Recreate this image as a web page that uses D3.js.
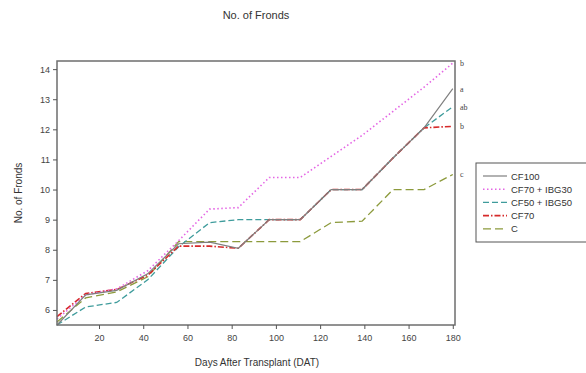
<!DOCTYPE html>
<html>
<head>
<meta charset="utf-8">
<script src="https://cdn.jsdelivr.net/npm/d3@7"></script>
<style>
  body { margin: 0; background: #fff; }
  svg { font-family: "Liberation Sans", Arial, sans-serif; }
</style>
</head>
<body>
<svg id="chart" width="586" height="373"></svg>
<script>
const days = [1, 14, 28, 42, 56, 70, 83, 97, 111, 125, 139, 153, 167, 180];
const cf100 = [5.5, 6.5, 6.65, 7.2, 8.2, 8.25, 8.05, 9.0, 9.0, 10.0, 10.0, 11.05, 12.05, 13.35];
const cf70ibg30 = [5.7, 6.5, 6.7, 7.3, 8.3, 9.35, 9.4, 10.4, 10.4, 11.1, 11.8, 12.6, 13.4, 14.2];
const cf50ibg50 = [5.5, 6.1, 6.25, 7.0, 8.1, 8.9, 9.0, 9.0, 9.0, 10.0, 10.0, 11.05, 12.05, 12.75];
const cf70 = [5.78, 6.55, 6.68, 7.15, 8.12, 8.12, 8.05, 9.0, 9.0, 10.0, 10.0, 11.05, 12.05, 12.1];
const control = [5.6, 6.4, 6.6, 7.1, 8.27, 8.27, 8.27, 8.27, 8.27, 8.9, 8.95, 10.0, 10.0, 10.5];
const seriesNames = ["CF100", "CF70 + IBG30", "CF50 + IBG50", "CF70", "C"];
const endLetters = ["a", "b", "ab", "b", "c"];
const xTicks = [20, 40, 60, 80, 100, 120, 140, 160, 180];
const yTicks = [6, 7, 8, 9, 10, 11, 12, 13, 14];

const styles = [
  { color: "#7f7f7f", dash: null, width: 1.2 },
  { color: "#e466e4", dash: "1.5,2.5", width: 1.6 },
  { color: "#3f9c9c", dash: "6,3", width: 1.3 },
  { color: "#d62a2a", dash: "6,2,1.5,2", width: 1.6 },
  { color: "#8c9a3c", dash: "8,4", width: 1.3 }
];
const values = [cf100, cf70ibg30, cf50ibg50, cf70, control];

const svg = d3.select("#chart");
const margin = { top: 61, left: 57, right: 131, bottom: 48 };
const width = 586 - margin.left - margin.right;
const height = 373 - margin.top - margin.bottom;

const x = d3.scaleLinear().domain([1, 181]).range([0, width]);
const y = d3.scaleLinear().domain([5.5, 14.27]).range([height, 0]);

const g = svg.append("g")
  .attr("transform", `translate(${margin.left},${margin.top})`);

// Title
svg.append("text")
  .attr("x", 256).attr("y", 19)
  .attr("text-anchor", "middle")
  .attr("font-size", 11)
  .attr("fill", "#333")
  .text("No. of Fronds");

// lines
const line = d3.line()
  .x((d, i) => x(days[i]))
  .y(d => y(d));

// draw in order so gray sits on top of the overlapping ones
const drawOrder = [4, 2, 3, 1, 0];
drawOrder.forEach(k => {
  g.append("path")
    .datum(values[k])
    .attr("fill", "none")
    .attr("stroke", styles[k].color)
    .attr("stroke-width", styles[k].width)
    .attr("stroke-dasharray", styles[k].dash)
    .attr("d", line);
});

// frame
g.append("rect")
  .attr("width", width).attr("height", height)
  .attr("fill", "none")
  .attr("stroke", "#6e6e6e")
  .attr("stroke-width", 1.5);

// axes
const xAxis = g.append("g")
  .attr("transform", `translate(0,${height})`)
  .call(d3.axisBottom(x).tickValues(xTicks).tickSize(4).tickPadding(6));
const yAxis = g.append("g")
  .call(d3.axisLeft(y).tickValues(yTicks).tickSize(4).tickPadding(3));
[xAxis, yAxis].forEach(a => {
  a.select(".domain").remove();
  a.selectAll("line").attr("stroke", "#555");
  a.selectAll("text")
    .attr("font-size", 9)
    .attr("fill", "#444")
    .attr("font-family", "Liberation Sans, Arial, sans-serif");
});

// axis titles
svg.append("text")
  .attr("x", 257).attr("y", 366)
  .attr("text-anchor", "middle")
  .attr("font-size", 10)
  .attr("fill", "#333")
  .text("Days After Transplant (DAT)");
svg.append("text")
  .attr("transform", `translate(22,${margin.top + height / 2}) rotate(-90)`)
  .attr("text-anchor", "middle")
  .attr("font-size", 10)
  .attr("fill", "#333")
  .text("No. of Fronds");

// significance letters at the end of each line
values.forEach((v, k) => {
  svg.append("text")
    .attr("x", margin.left + width + 5)
    .attr("y", margin.top + y(v[v.length - 1]) + 3)
    .attr("font-size", 8)
    .attr("fill", "#444")
    .attr("font-family", "Liberation Serif, serif")
    .text(endLetters[k]);
});

// legend
const legend = svg.append("g").attr("transform", "translate(476,163)");
legend.append("rect")
  .attr("width", 112).attr("height", 79)
  .attr("fill", "#fff")
  .attr("stroke", "#555")
  .attr("stroke-width", 1);
seriesNames.forEach((name, k) => {
  const ly = 13 + k * 13.2;
  legend.append("line")
    .attr("x1", 7).attr("x2", 31)
    .attr("y1", ly).attr("y2", ly)
    .attr("stroke", styles[k].color)
    .attr("stroke-width", styles[k].width)
    .attr("stroke-dasharray", styles[k].dash);
  legend.append("text")
    .attr("x", 35).attr("y", ly + 3.5)
    .attr("font-size", 9.5)
    .attr("fill", "#333")
    .text(name);
});
</script>
</body>
</html>
